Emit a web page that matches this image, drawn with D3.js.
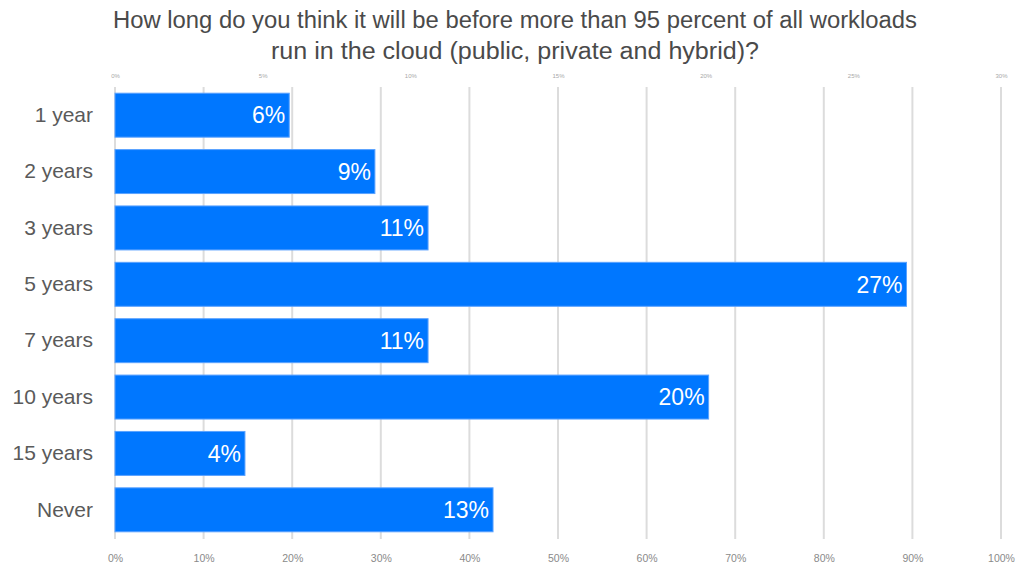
<!DOCTYPE html>
<html>
<head>
<meta charset="utf-8">
<script src="https://cdn.jsdelivr.net/npm/d3@7"></script>
<style>
  body { margin: 0; background: #fff; }
  svg { display: block; font-family: "Liberation Sans", Arial, sans-serif; }
</style>
</head>
<body>
<svg class="svg-bars"></svg>
<script>
const categories = ["1 year", "2 years", "3 years", "5 years", "7 years", "10 years", "15 years", "Never"]
const shares = [0.059, 0.088, 0.106, 0.268, 0.106, 0.201, 0.044, 0.128]
const topTicks = [0, 0.05, 0.10, 0.15, 0.20, 0.25, 0.30]
const bottomTicks = [0, 0.1, 0.2, 0.3, 0.4, 0.5, 0.6, 0.7, 0.8, 0.9, 1.0]
const titleLines = ["How long do you think it will be before more than 95 percent of all workloads",
                    "run in the cloud (public, private and hybrid)?"]

var width = 1017
var height = 565
var margin = { top: 87, right: 16, bottom: 27, left: 115 }

var svg = d3.select('.svg-bars')
    .attr('width', width)
    .attr('height', height)

// bars are drawn on the 0-30% scale, the bottom axis runs 0-100%
var x_top = d3.scaleLinear()
    .domain([0, 0.30])
    .range([margin.left, width - margin.right])
var x_bottom = d3.scaleLinear()
    .domain([0, 1])
    .range([margin.left, width - margin.right])

var y_scale = d3.scaleBand()
    .domain(categories)
    .range([margin.top, height - margin.bottom])
    .paddingInner(0.22)
    .paddingOuter(0.11)

var pct = d3.format(".0%")

// gridlines
svg.append('g')
    .selectAll('line')
    .data(bottomTicks)
    .enter()
    .append('line')
    .attr('x1', d => x_bottom(d))
    .attr('x2', d => x_bottom(d))
    .attr('y1', margin.top)
    .attr('y2', height - margin.bottom + 1)
    .attr('stroke', '#dcdcdc')
    .attr('stroke-width', 2)

// bottom axis
var x_axis = d3.axisBottom(x_bottom)
    .tickValues(bottomTicks)
    .tickFormat(d3.format(".0%"))
    .tickSize(0)
    .tickPadding(17)
svg.append('g')
    .attr('transform', `translate(0, ${height - margin.bottom})`)
    .call(x_axis)
    .call(g => g.select('.domain').remove())
    .selectAll('text')
    .attr('fill', '#8a8a8a')
    .style('font-size', '10.5px')

// top axis (tiny labels)
var x_axis_top = d3.axisTop(x_top)
    .tickValues(topTicks)
    .tickFormat(d3.format(".0%"))
    .tickSize(0)
    .tickPadding(9)
svg.append('g')
    .attr('transform', `translate(0, ${margin.top})`)
    .call(x_axis_top)
    .call(g => g.select('.domain').remove())
    .selectAll('text')
    .attr('fill', '#a8a8a8')
    .style('font-size', '6px')

// category labels
var y_axis = d3.axisLeft(y_scale)
    .tickSize(0)
    .tickPadding(22)
svg.append('g')
    .attr('transform', `translate(${margin.left}, 0)`)
    .call(y_axis)
    .call(g => g.select('.domain').remove())
    .selectAll('text')
    .attr('fill', '#5a5a5a')
    .style('font-size', '21px')

// bars
var g = svg.append('g')
    .selectAll('g')
    .data(shares)
    .enter()
    .append('g')

g.append('rect')
    .attr('x', x_top(0))
    .attr('y', (d, idx) => y_scale(categories[idx]))
    .attr('width', d => x_top(d) - x_top(0))
    .attr('height', y_scale.bandwidth())
    .attr('fill', '#0077ff')
    .attr('stroke', '#5aa2ff')
    .attr('stroke-width', 1)

g.append('text')
    .attr('x', d => x_top(d) - 4)
    .attr('y', (d, idx) => y_scale(categories[idx]) + y_scale.bandwidth() / 2)
    .attr('dy', '0.36em')
    .attr('text-anchor', 'end')
    .attr('fill', '#fff')
    .style('font-size', '23px')
    .text(d => pct(d))

// title
svg.append('text')
    .attr('x', 515)
    .attr('y', 28)
    .attr('text-anchor', 'middle')
    .attr('fill', '#4a4a4a')
    .style('font-size', '23px')
    .selectAll('tspan')
    .data(titleLines)
    .enter()
    .append('tspan')
    .attr('x', 515)
    .attr('dy', (d, idx) => idx === 0 ? 0 : 31)
    .attr('textLength', (d, idx) => idx === 0 ? 804 : 488)
    .attr('lengthAdjust', 'spacingAndGlyphs')
    .text(d => d)
</script>
</body>
</html>
